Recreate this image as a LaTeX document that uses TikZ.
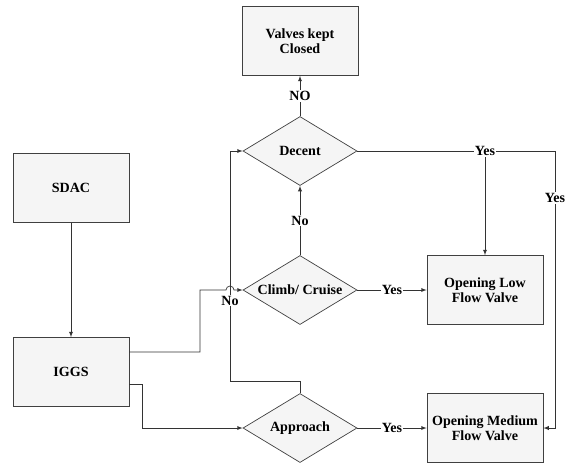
\documentclass[tikz,border=0pt]{standalone}
\usepackage{fontspec}
\setmainfont{Liberation Serif}
\usetikzlibrary{shapes.geometric}

\tikzset{
    box/.style={draw=black!75, fill=gray!8, minimum width=3.48cm, minimum height=2.07cm, align=center, font=\bfseries\fontsize{12}{12.5}\selectfont},
    decision/.style={diamond, draw=black!75, fill=gray!8, minimum width=3.42cm, minimum height=2.07cm, shape aspect=1.65, inner sep=0pt, font=\bfseries\fontsize{12}{12.5}\selectfont},
    lbl/.style={fill=white, inner sep=1pt, font=\bfseries\fontsize{12}{12.5}\selectfont}
}

\begin{document}
\begin{tikzpicture}[x=0.03cm, y=0.03cm, >=latex, semithick, draw=black!80]
    \useasboundingbox (0,0) rectangle (572,-463);
    \node [box] at (300,-41) (valves) {Valves kept\\Closed};
    \node [box] at (71,-188) (sdac) {SDAC};
    \node [box] at (71,-372) (iggs) {IGGS};
    \node [decision] at (300,-151) (decent) {Decent};
    \node [decision] at (300,-290) (climb) {Climb/ Cruise};
    \node [decision] at (300,-428) (approach) {Approach};
    \node [box] at (485,-290) (low) {Opening Low\\Flow Valve};
    \node [box] at (485,-428) (medium) {Opening Medium\\Flow Valve};
    \coordinate (split) at (485,-151);
    \path [draw, ->] (sdac) -- (iggs);
    \path [draw, ->] (decent) -- node [lbl] {NO} (valves);
    \path [draw, ->] (climb) -- node [lbl] {No} (decent);
    \path [draw, ->] (climb) -- node [lbl] {Yes} (low);
    \path [draw, ->] (approach) -- node [lbl] {Yes} (medium);
    \path [draw, ->] (iggs.east |- 0,-352) -| (200,-290) -- (226,-290) arc (180:0:4) -- (climb.west);
    \path [draw, ->] (iggs.east |- 0,-384) -| (142,-428) -- (approach.west);
    \path [draw, ->] (approach.north) |- (230,-381) -- node [lbl, pos=0.35] {No} (230,-151) -- (decent.west);
    \path [draw] (decent.east) -- (split);
    \path [draw, ->] (split) -- (low.north);
    \path [draw, ->] (split) -- (555,-151) -- node [lbl, pos=0.17] {Yes} (555,-428) -- (medium.east);
    \node [lbl] at (split) {Yes};
\end{tikzpicture}
\end{document}
